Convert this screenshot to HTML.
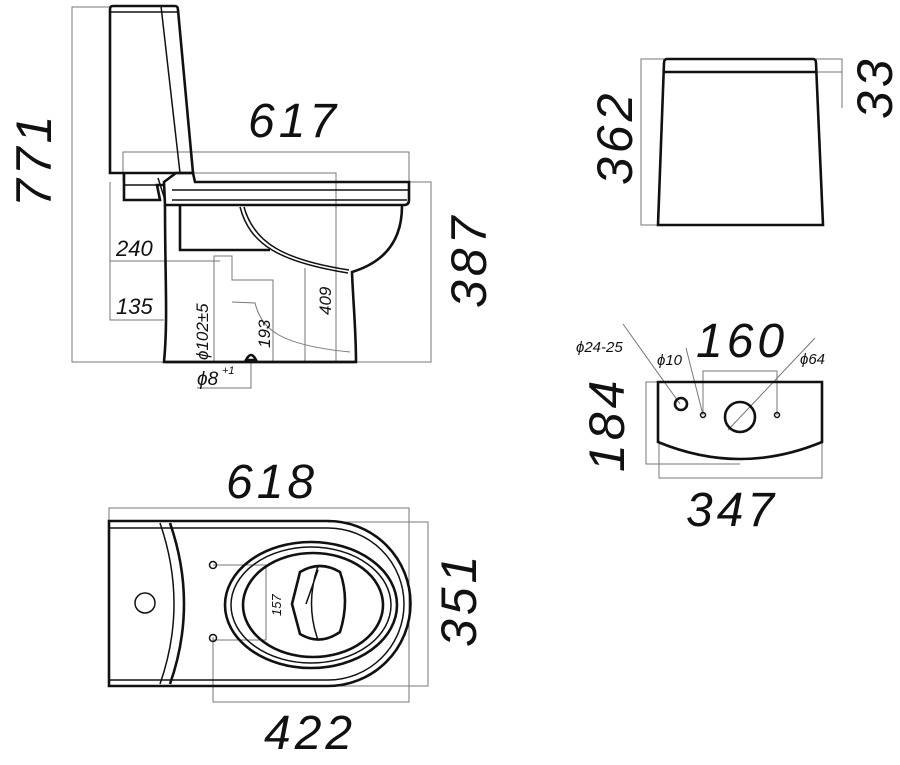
<!DOCTYPE html>
<html><head><meta charset="utf-8"><style>
html,body{margin:0;padding:0;background:#fff;}
svg{display:block;}
text{font-family:"Liberation Sans",sans-serif;font-style:italic;fill:#111;}
.big{letter-spacing:4px;}
.t{stroke:#111;stroke-width:2.6;fill:none;}
.m{stroke:#111;stroke-width:1.5;fill:none;}
.d{stroke:#777;stroke-width:1;fill:none;}
</style></head><body>
<svg width="900" height="765" viewBox="0 0 900 765" xmlns="http://www.w3.org/2000/svg">
<path class="d" d="M110,7 H72 V362 H164"/>
<path class="d" d="M123,182 V152 H409 V182"/>
<path class="d" d="M170,173 H336 V362"/>
<path class="d" d="M409,182 H431 V362 H356"/>
<path class="d" d="M110,182 V320 H164"/>
<path class="d" d="M110,261 H220"/>
<path class="d" d="M214,362 V256 H232 V280 H273 V362"/>
<path class="d" d="M232,302 L255,303 C262,330 280,345 350,352"/>
<path class="d" d="M305,362 V268"/>
<path class="d" d="M251,362 V388 H197"/>
<path class="t" d="M113,6 H175 Q178,6 178,10 L193,173 H110 V9 Q110,6 113,6 Z"/>
<path class="m" d="M161,6 L180,173"/>
<path class="m" d="M110,12 H177"/>
<path class="t" d="M124,173 V200 H160 L157,185 H164"/>
<path class="m" d="M124,185 H157 M158,178 L165,200"/>
<path class="t" d="M176,173 H193 L195,182 H409 V200 Q409,205 404,205 H165 L164,182 Z"/>
<path class="m" d="M172,190 H409 M172,200 H407"/>
<path class="t" d="M180,206 V250 H270"/>
<path class="t" d="M402,206 C402,240 385,262 352,272 C353,300 356,330 356,362 H164 C168,320 165,280 165,205"/>
<path class="m" d="M240,207 C250,245 280,262 348,273"/>
<path class="m" d="M244,207 C254,243 284,260 349,270"/>
<path class="t" d="M164,362 H356"/>
<path class="t" d="M246,360 Q251,350 256,360 Z"/>
<text class="big" x="248" y="137" font-size="48">617</text>
<text class="big" transform="translate(51,207) rotate(-90)" font-size="50">771</text>
<text class="big" transform="translate(486,308) rotate(-90)" font-size="50">387</text>
<text x="116" y="256" font-size="22">240</text>
<text x="116" y="314" font-size="22">135</text>
<text transform="translate(208,360) rotate(-90)" font-size="17">ϕ102±5</text>
<text transform="translate(270,348) rotate(-90)" font-size="17">193</text>
<text transform="translate(331,315) rotate(-90)" font-size="17">409</text>
<text x="197" y="385" font-size="19">ϕ8</text>
<text x="222" y="374" font-size="11">+1</text>

<path class="d" d="M664,59 H641 V225 H658"/>
<path class="d" d="M816,59 H842 V108 M816,72 H842"/>
<path class="t" d="M667,59 H813 Q816,59 816,63 L823,225 H658 L664,63 Q664,59 667,59 Z"/>
<path class="t" d="M664,72 H816"/>
<text class="big" transform="translate(632,185) rotate(-90)" font-size="50">362</text>
<text class="big" transform="translate(892,119) rotate(-90)" font-size="50">33</text>

<path class="d" d="M658,382 H646 V464 H740"/>
<path class="d" d="M659,440 V478 H822 V440"/>
<path class="d" d="M703,415 V371 H777 V415"/>
<path class="d" d="M623,324 L680,404 M686,348 L703,415 M815,338 L728,430"/>
<path class="t" d="M658,382 H822 V442 Q740,476 658,442 Z"/>
<circle class="t" cx="681" cy="404" r="6"/>
<circle class="t" cx="740" cy="417" r="15"/>
<circle class="m" cx="703" cy="415" r="2.5"/>
<circle class="m" cx="777" cy="415" r="2.5"/>
<text class="big" x="696" y="357" font-size="48">160</text>
<text class="big" transform="translate(624,472) rotate(-90)" font-size="50">184</text>
<text x="576" y="352" font-size="15">ϕ24-25</text>
<text x="657" y="365" font-size="15">ϕ10</text>
<text x="800" y="364" font-size="15">ϕ64</text>
<text class="big" x="686" y="526" font-size="48">347</text>

<path class="d" d="M109,521 V508 H409 V702 H213 V637"/>
<path class="d" d="M328,522 H428 V686 H328"/>
<path class="d" d="M213,565 H266 V640 H213"/>
<path class="t" d="M109,521 H328 A82,82 0 0 1 328,686 H109 Z"/>
<path class="m" d="M109,528 H328 A76,76 0 0 1 328,680 H109"/>
<path class="t" d="M170,523 Q198,604 170,684"/>
<path class="m" d="M160,523 Q188,604 160,684"/>
<circle class="m" cx="145" cy="603" r="10"/>
<ellipse class="t" cx="311" cy="605" rx="86" ry="63"/>
<ellipse class="m" cx="311" cy="605" rx="80" ry="58"/>
<ellipse class="t" cx="313" cy="605" rx="70" ry="52"/>
<path class="t" d="M300,572 Q320,560 340,572 Q350,600 340,632 Q320,646 300,634 L292,604 Z"/>
<path class="m" d="M318,566 Q305,604 318,640 M306,604 L318,570"/>
<circle class="m" cx="213" cy="565" r="3.5"/>
<circle class="m" cx="213" cy="638" r="3.5"/>
<text class="big" x="226" y="498" font-size="48">618</text>
<text class="big" x="264" y="749" font-size="48">422</text>
<text class="big" transform="translate(476,647) rotate(-90)" font-size="50">351</text>
<text transform="translate(281,616) rotate(-90)" font-size="13">157</text>
</svg>
</body></html>
